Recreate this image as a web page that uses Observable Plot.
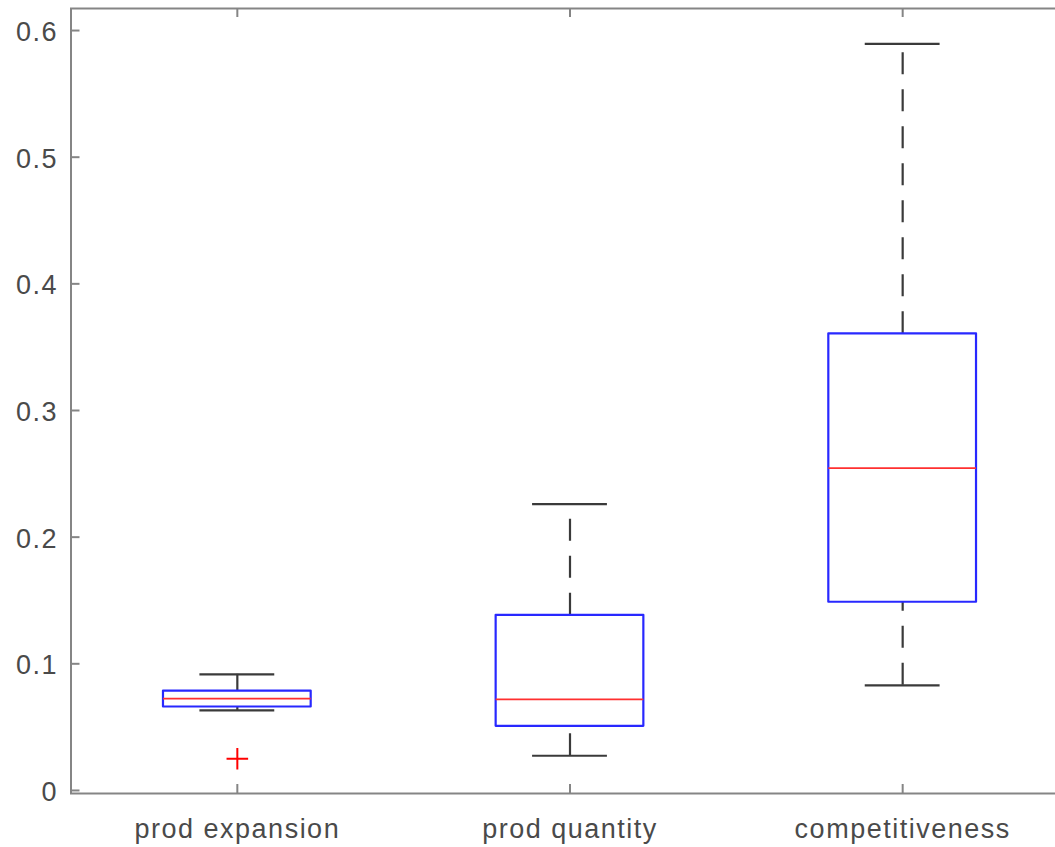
<!DOCTYPE html>
<html><head><meta charset="utf-8">
<script src="https://cdn.jsdelivr.net/npm/d3@7"></script>
<script src="https://cdn.jsdelivr.net/npm/@observablehq/plot@0.6"></script>
<style>
html,body{margin:0;padding:0;background:#fff;overflow:hidden;}
#chart svg text{letter-spacing:1.5px;}
</style></head><body><div id="chart"></div>
<script>
const categories = ["prod expansion", "prod quantity", "competitiveness"];
const lowerWhisker = [0.0632, 0.0274, 0.083];
const q1 = [0.0659, 0.0506, 0.1486];
const medians = [0.0725, 0.0719, 0.2545];
const q3 = [0.0785, 0.1383, 0.3605];
const upperWhisker = [0.0917, 0.226, 0.5895];
const outlierCategory = [0];
const outlierValue = [0.025];
const yTicks = [0, 0.1, 0.2, 0.3, 0.4, 0.5, 0.6];
const yTickLabels = ["0", "0.1", "0.2", "0.3", "0.4", "0.5", "0.6"];
const xTicks = [1, 2, 3];
const xDomain = [0.5, 3.5];
const yDomain = [-0.0024, 0.6174];
const boxHalf = 0.222, capHalf = 0.1125;

const axisColor = "#858585", textColor = "#4a4a4a";
const boxColor = "#2828ff", medColor = "#ff3030", whiskColor = "#3a3a3a";

const boxes = categories.map((c, i) => ({pos: i + 1, lo: lowerWhisker[i], q1: q1[i], med: medians[i], q3: q3[i], hi: upperWhisker[i]}));
const whiskers = boxes.flatMap(b => [{pos: b.pos, a: b.lo, b: b.q1}, {pos: b.pos, a: b.q3, b: b.hi}]);
const outliers = outlierCategory.map((c, i) => ({pos: c + 1, v: outlierValue[i]}));

const chart = Plot.plot({
  width: 1069,
  height: 847,
  marginLeft: 70.5,
  marginRight: 0.5,
  marginTop: 8,
  marginBottom: 54,
  style: {fontFamily: "'Liberation Sans', Arial, sans-serif", background: "#fff", maxWidth: "none", overflow: "hidden"},
  x: {domain: xDomain},
  y: {domain: yDomain},
  marks: [
    Plot.frame({stroke: axisColor, strokeWidth: 2}),
    Plot.ruleY(yTicks, {y: d => d, x1: () => xDomain[0], x2: () => xDomain[0], insetRight: -9, stroke: axisColor, strokeWidth: 2}),
    Plot.ruleX(xTicks, {x: d => d, y1: () => yDomain[0], y2: () => yDomain[0], insetBottom: 9, stroke: axisColor, strokeWidth: 2}),
    Plot.ruleX(xTicks, {x: d => d, y1: () => yDomain[1], y2: () => yDomain[1], insetBottom: -9, stroke: axisColor, strokeWidth: 2}),
    Plot.axisY(yTicks, {tickSize: 0, tickPadding: 13, dy: 2, tickFormat: d => yTickLabels[yTicks.indexOf(d)], fontSize: 27, fill: textColor, label: null}),
    Plot.axisX(xTicks, {tickSize: 0, tickPadding: 25, tickFormat: d => categories[d - 1], fontSize: 27, fill: textColor, label: null}),
    Plot.ruleX(whiskers, {x: "pos", y1: "a", y2: "b", stroke: whiskColor, strokeWidth: 2.2, strokeDasharray: "22,15"}),
    Plot.ruleY(boxes, {y: "hi", x1: d => d.pos - capHalf, x2: d => d.pos + capHalf, stroke: whiskColor, strokeWidth: 2.2}),
    Plot.ruleY(boxes, {y: "lo", x1: d => d.pos - capHalf, x2: d => d.pos + capHalf, stroke: whiskColor, strokeWidth: 2.2}),
    Plot.rect(boxes, {x1: d => d.pos - boxHalf, x2: d => d.pos + boxHalf, y1: "q1", y2: "q3", fill: "none", stroke: boxColor, strokeWidth: 2.2, strokeLinejoin: "round"}),
    Plot.ruleY(boxes, {y: "med", x1: d => d.pos - boxHalf, x2: d => d.pos + boxHalf, stroke: medColor, strokeWidth: 1.8}),
    Plot.dot(outliers, {x: "pos", y: "v", symbol: "plus", r: 7, stroke: "red", strokeWidth: 2})
  ]
});
document.getElementById("chart").appendChild(chart);
</script></body></html>
